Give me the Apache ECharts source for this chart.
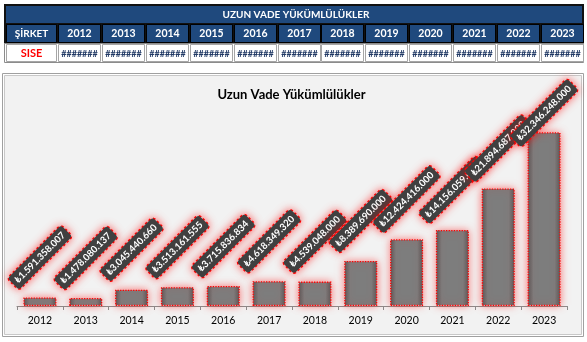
<!DOCTYPE html>
<html>
<head>
<meta charset="utf-8">
<script src="https://cdn.jsdelivr.net/npm/echarts@6/dist/echarts.min.js"></script>
<style>
  html, body { margin: 0; padding: 0; background: #ffffff; }
  #chart { width: 587px; height: 342px; }
</style>
</head>
<body>
<div id="chart"></div>
<script>
// Long-term liabilities (Uzun Vade Yükümlülükler), SISE, in TRY
const years = ['2012', '2013', '2014', '2015', '2016', '2017', '2018', '2019', '2020', '2021', '2022', '2023'];
const liabilities = [1591358007, 1478080137, 3045440660, 3513161555, 3715836834, 4618349320,
                     4539048000, 8389690000, 12424416000, 14156059000, 21894687000, 32346248000];
const company = 'SISE';
const tableTitle = 'UZUN VADE YÜKÜMLÜLÜKLER';
const companyHeader = 'ŞİRKET';
const chartTitle = 'Uzun Vade Yükümlülükler';
const overflowCell = '#######';

const FONT = 'Lato, "Noto Sans", "DejaVu Sans", sans-serif';
const NAVY = '#1F497D';

function lira(v) {
  return '₺' + String(Math.round(v)).replace(/\B(?=(\d{3})+(?!\d))/g, '.');
}

// ---- header table drawn as graphic elements ----
function buildTable() {
  const els = [];
  const colX0 = 58, colStep = 43.9, colW = 42;
  els.push({ type: 'rect', shape: { x: 4, y: 4, width: 580, height: 39.5 }, style: { fill: '#111' }, z: 1 });
  els.push({ type: 'rect', shape: { x: 6, y: 6, width: 576, height: 17 }, style: { fill: NAVY }, z: 2 });
  els.push({ type: 'text', x: 296, y: 14.5, style: { text: tableTitle, fill: '#fff', font: 'bold 10px ' + FONT, align: 'center', verticalAlign: 'middle' }, z: 3 });
  // row 2: company header + years
  els.push({ type: 'rect', shape: { x: 6.5, y: 24.5, width: 50, height: 18 }, style: { fill: NAVY, stroke: '#000', lineWidth: 1 }, z: 2 });
  els.push({ type: 'text', x: 31.5, y: 34, style: { text: companyHeader, fill: '#fff', font: 'bold 10px ' + FONT, align: 'center', verticalAlign: 'middle' }, z: 3 });
  // row 3 frame
  els.push({ type: 'rect', shape: { x: 4.5, y: 43.5, width: 579, height: 19 }, style: { fill: '#fff', stroke: '#8c8c8c', lineWidth: 1 }, z: 1 });
  els.push({ type: 'rect', shape: { x: 6.5, y: 44.5, width: 50, height: 17 }, style: { fill: '#fff', stroke: '#a6a6a6', lineWidth: 1 }, z: 2 });
  els.push({ type: 'text', x: 31.5, y: 53.5, style: { text: company, fill: '#ff0000', font: 'bold 11px ' + FONT, align: 'center', verticalAlign: 'middle' }, z: 3 });
  years.forEach(function (y, i) {
    const x = Math.round(colX0 + i * colStep) + 0.5;
    els.push({ type: 'rect', shape: { x: x, y: 24.5, width: colW, height: 18 }, style: { fill: NAVY, stroke: '#000', lineWidth: 1 }, z: 2 });
    els.push({ type: 'text', x: x + colW / 2, y: 34, style: { text: y, fill: '#fff', font: 'bold 10.5px ' + FONT, align: 'center', verticalAlign: 'middle' }, z: 3 });
    els.push({ type: 'rect', shape: { x: x, y: 44.5, width: colW, height: 17 }, style: { fill: '#fff', stroke: '#a6a6a6', lineWidth: 1 }, z: 2 });
    els.push({ type: 'text', x: x + colW / 2, y: 54, style: { text: overflowCell, fill: '#1F3864', font: 'bold 9px ' + FONT, align: 'center', verticalAlign: 'middle', textDecoration: 'line-through' }, z: 3 });
  });
  return els;
}

// ---- chart panel ----
function buildPanel() {
  return [
    { type: 'rect', shape: { x: 2.5, y: 73.5, width: 581, height: 263 }, style: { fill: 'none', stroke: '#a0a0a0', lineWidth: 1 }, z: -2 },
    { type: 'rect', shape: { x: 4.5, y: 75.5, width: 577, height: 259 }, style: { fill: '#F2F2F2', stroke: '#c8c8c8', lineWidth: 1 }, z: -2 },
    { type: 'text', x: 291.5, y: 95, style: { text: chartTitle, fill: '#000', font: 'bold 13px ' + FONT, align: 'center', verticalAlign: 'middle' }, z: 1 }
  ];
}

const LABEL_GAP = 40;      // distance from bar top to label centre
const LABEL_CEIL = 113;    // highest allowed label centre (keeps labels inside the panel)

const barStyle = {
  color: {
    type: 'linear', x: 0, y: 0, x2: 1, y2: 0,
    colorStops: [
      { offset: 0, color: '#585858' },
      { offset: 0.18, color: '#7d7d7d' },
      { offset: 0.82, color: '#7d7d7d' },
      { offset: 1, color: '#585858' }
    ]
  },
  borderColor: '#ff0000',
  borderType: 'dotted',
  borderWidth: 1.3,
  shadowColor: 'rgba(255,0,0,0.55)',
  shadowBlur: 8
};

function makeData(distances) {
  return liabilities.map(function (v, i) {
    const item = { value: v };
    if (distances) item.label = { distance: distances[i] };
    return item;
  });
}

const option = {
  animation: false,
  backgroundColor: '#ffffff',
  graphic: buildTable().concat(buildPanel()),
  grid: { left: 17, width: 550, top: 118, height: 188 },
  xAxis: {
    type: 'category',
    data: years,
    boundaryGap: true,
    axisLine: { lineStyle: { color: '#8c8c8c', width: 1 } },
    axisTick: { show: true, length: 4, lineStyle: { color: '#8c8c8c' } },
    axisLabel: { color: '#000', fontFamily: FONT, fontSize: 10.5, margin: 9 }
  },
  yAxis: {
    type: 'value', min: 0, max: 35000000000, show: false,
    splitLine: { show: false }
  },
  series: [{
    type: 'bar',
    barWidth: 33,
    data: makeData(null),
    itemStyle: barStyle,
    label: {
      show: true,
      position: 'top',
      distance: LABEL_GAP,
      rotate: 45,
      align: 'center',
      verticalAlign: 'middle',
      formatter: function (p) { return lira(p.value); },
      color: '#ffffff',
      fontFamily: FONT,
      fontWeight: 'bold',
      fontSize: 9.5,
      lineHeight: 11,
      backgroundColor: '#404040',
      borderColor: '#ff0000',
      borderType: 'dotted',
      borderWidth: 1.2,
      borderRadius: 3,
      padding: [3, 4, 2, 4],
      shadowColor: 'rgba(255,0,0,0.6)',
      shadowBlur: 8
    },
    labelLayout: { hideOverlap: false }
  }]
};

const chart = echarts.init(document.getElementById('chart'), null, { renderer: 'canvas' });
chart.setOption(option);

// keep the tallest labels inside the panel
const distances = liabilities.map(function (v, i) {
  const top = chart.convertToPixel({ gridIndex: 0 }, [i, v])[1];
  return (top - LABEL_GAP < LABEL_CEIL) ? Math.max(0, top - LABEL_CEIL) : LABEL_GAP;
});
chart.setOption({ series: [{ data: makeData(distances) }] });
</script>
</body>
</html>
